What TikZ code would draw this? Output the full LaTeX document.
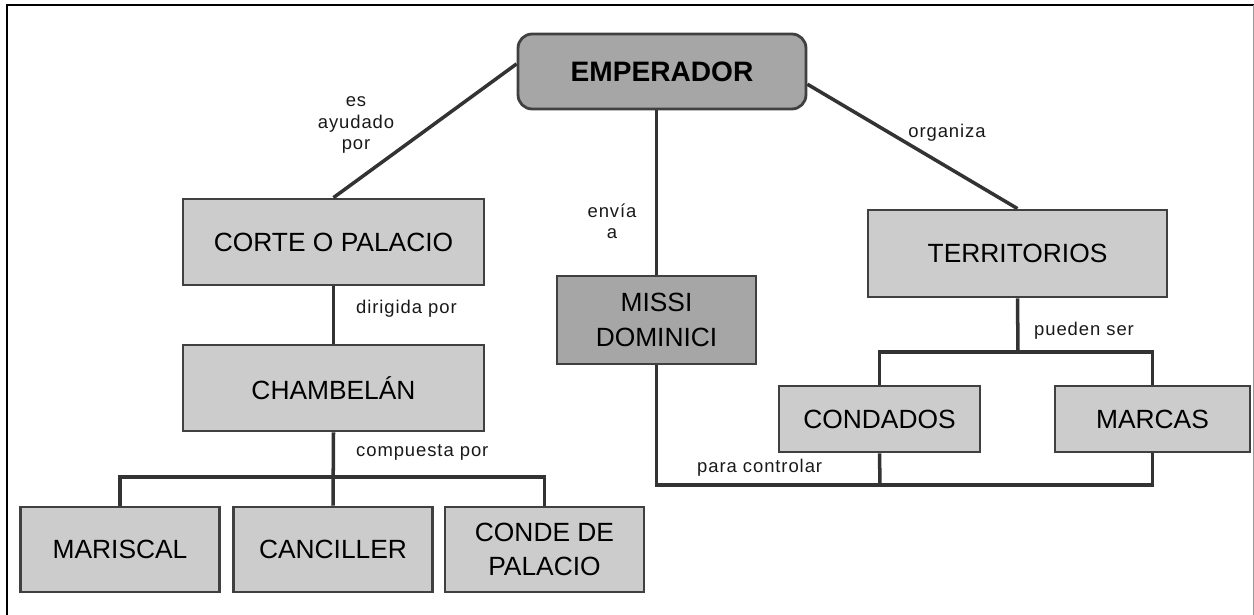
\documentclass[tikz,border=0pt]{standalone}
\usepackage{fontspec}
\setmainfont{Liberation Sans}
\newfontfamily\lblfont[LetterSpace=5]{Liberation Sans}
\begin{document}
\begin{tikzpicture}[x=0.02cm,y=-0.02cm,
    box/.style={draw=black!75,line width=1.6pt,fill=black!20,align=center,
        inner sep=0pt,font=\fontsize{15}{19.5}\selectfont},
    darkbox/.style={box,fill=black!35},
    link/.style={draw=black!80,line width=2pt},
    lbl/.style={font=\lblfont\fontsize{10.5}{12}\selectfont,align=center,text=black!90}]
    \useasboundingbox (0,0) rectangle (1254,615);
    % marco
    \draw[line width=1.4pt] (7,615) -- (7,5) -- (1254,5);
    \draw[black!40] (1253,5) -- (1253,615);
    % conceptos
    \node[darkbox,rounded corners=8pt,minimum width=5.76cm,minimum height=1.5cm,
        font=\bfseries\fontsize{16}{19}\selectfont] (emperador) at (662,71.5) {EMPERADOR};
    \node[box,minimum width=6.02cm,minimum height=1.72cm] (corte) at (333.5,242) {CORTE O PALACIO};
    \node[box,minimum width=6.02cm,minimum height=1.72cm] (chambelan) at (333.5,388) {CHAMBELÁN};
    \node[darkbox,minimum width=3.98cm,minimum height=1.76cm] (missi) at (656.5,320) {MISSI\\DOMINICI};
    \node[box,minimum width=5.98cm,minimum height=1.74cm] (territorios) at (1017.5,253.5) {TERRITORIOS};
    \node[box,minimum width=4.02cm,minimum height=1.32cm] (condados) at (879.5,419) {CONDADOS};
    \node[box,minimum width=3.9cm,minimum height=1.32cm] (marcas) at (1152.5,419) {MARCAS};
    \node[box,minimum width=3.98cm,minimum height=1.7cm] (mariscal) at (120,549.5) {MARISCAL};
    \node[box,minimum width=3.98cm,minimum height=1.7cm] (canciller) at (333,549.5) {CANCILLER};
    \node[box,minimum width=3.98cm,minimum height=1.7cm] (conde) at (544.5,549.5) {CONDE DE\\PALACIO};
    % puntos de union
    \coordinate (cbus) at (333,477);
    \coordinate (tbus) at (1018,352);
    \coordinate (mbus) at (880,485);
    % enlaces
    \draw[link] (emperador.177) -- (corte.north);
    \draw[link] (emperador.-5) -- (territorios.north);
    \draw[link] (missi.north |- emperador.south) -- (missi.north);
    \draw[link] (corte.south) -- (chambelan.north);
    \draw[link] (chambelan.south) -- (canciller.north);
    \draw[link] (mariscal.north) |- (cbus) -| (conde.north);
    \draw[link] (territorios.south) -- (tbus);
    \draw[link] (condados.north) |- (tbus) -| (marcas.north);
    \draw[link] (missi.south) |- (mbus) -| (marcas.south);
    \draw[link] (condados.south) -- (mbus);
    % palabras de enlace
    \node[lbl] (ayudado) at (356,125) {es\\ayudado\\por};
    \node[lbl,anchor=west] (dirigida) at (350,309) {dirigida por};
    \node[lbl,anchor=west] (compuesta) at (350,452) {compuesta por};
    \node[lbl] (envia) at (612,221) {envía\\a};
    \node[lbl] (organiza) at (947,133) {organiza};
    \node[lbl,anchor=west] (pueden) at (1028,331) {pueden ser};
    \node[lbl,anchor=west] (controlar) at (691,468) {para controlar};
\end{tikzpicture}
\end{document}
